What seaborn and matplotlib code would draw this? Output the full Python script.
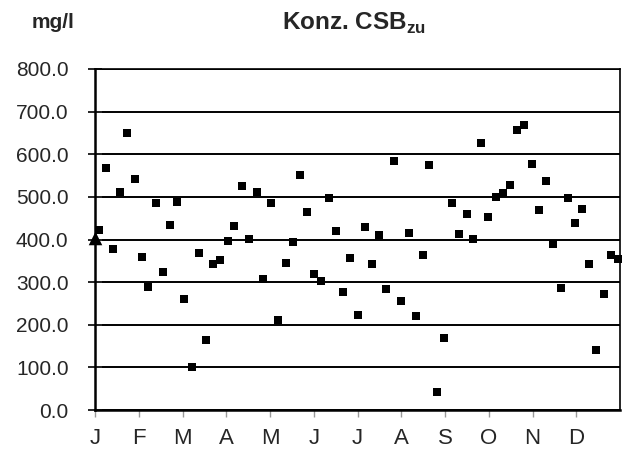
import matplotlib
matplotlib.use("Agg")
import matplotlib.pyplot as plt
import seaborn as sns
import pandas as pd

# sample position (in months from 1 Jan) and COD inflow concentration in mg/l
month_pos = [0.09, 0.24, 0.40, 0.56, 0.74, 0.91, 1.07, 1.22, 1.39, 1.55, 1.72, 1.88,
             2.04, 2.21, 2.37, 2.53, 2.70, 2.86, 3.03, 3.18, 3.37, 3.53, 3.70, 3.85,
             4.02, 4.19, 4.37, 4.52, 4.69, 4.85, 5.01, 5.17, 5.34, 5.51, 5.67, 5.83,
             6.00, 6.17, 6.33, 6.50, 6.65, 6.83, 6.99, 7.18, 7.33, 7.49, 7.63, 7.82,
             7.98, 8.17, 8.33, 8.50, 8.65, 8.82, 8.99, 9.17, 9.32, 9.49, 9.65, 9.81,
             9.99, 10.15, 10.31, 10.47, 10.64, 10.81, 10.96, 11.14, 11.29, 11.46,
             11.63, 11.79, 11.95]
csb = [422, 568, 378, 511, 650, 543, 359, 289, 485, 324, 435, 489,
       261, 101, 369, 165, 342, 351, 396, 432, 525, 402, 511, 307,
       485, 210, 346, 395, 552, 464, 320, 303, 497, 421, 277, 357,
       222, 429, 343, 411, 285, 583, 255, 415, 221, 364, 574, 43,
       170, 485, 414, 459, 402, 627, 453, 500, 508, 528, 658, 669,
       576, 469, 537, 389, 286, 498, 438, 471, 342, 141,
       272, 364, 354]
# separate start value (triangle)
start_pos = [0.0]
start_val = [403]

months = ["J", "F", "M", "A", "M", "J", "J", "A", "S", "O", "N", "D"]

sns.set_style("white")
plt.rcParams["font.family"] = ["Liberation Sans", "DejaVu Sans"]
plt.rcParams["mathtext.fontset"] = "custom"
plt.rcParams["mathtext.rm"] = "Liberation Sans:bold"
plt.rcParams["mathtext.bf"] = "Liberation Sans:bold"

df = pd.DataFrame({"month": month_pos, "csb": csb})
df0 = pd.DataFrame({"month": start_pos, "csb": start_val})

fig = plt.figure(figsize=(6.22, 4.57), dpi=100)
ax = fig.add_axes([95 / 622, 47 / 457, 525 / 622, 341 / 457])

ax.set_ylim(0, 800)
ax.set_xlim(0, 12)
ax.set_yticks(range(0, 801, 100))
ax.yaxis.grid(True, color="black", linewidth=1.4)
ax.set_axisbelow(True)

sns.scatterplot(data=df, x="month", y="csb", marker="s", s=30, color="black",
                edgecolor="black", linewidth=0, ax=ax, zorder=3, clip_on=False)
sns.scatterplot(data=df0, x="month", y="csb", marker="^", s=95, color="black",
                edgecolor="black", linewidth=0, ax=ax, zorder=4, clip_on=False)

ax.set_xticks(range(12))
ax.set_xticklabels(months, fontsize=16)
ax.set_yticklabels([f"{v:.1f}" for v in range(0, 801, 100)], fontsize=15)
ax.tick_params(axis="y", direction="inout", length=10, width=1.4, pad=14, left=True)
ax.tick_params(axis="x", direction="out", length=5, width=1, color="#999999",
               pad=8, bottom=True)
ax.set_xlabel("")
ax.set_ylabel("")

for side in ["left", "bottom"]:
    ax.spines[side].set_color("black")
    ax.spines[side].set_linewidth(1.8)
for side in ["top", "right"]:
    ax.spines[side].set_color("black")
    ax.spines[side].set_linewidth(1.2)

fig.text(32 / 622, 1 - 28.5 / 457, "mg/l", fontsize=15, fontweight="bold",
         ha="left", va="baseline")
fig.text(354 / 622, 1 - 30 / 457, r"Konz. CSB$_{\mathbf{zu}}$", fontsize=17.5,
         fontweight="bold", ha="center", va="baseline")

fig.savefig("out.png", dpi=100)
